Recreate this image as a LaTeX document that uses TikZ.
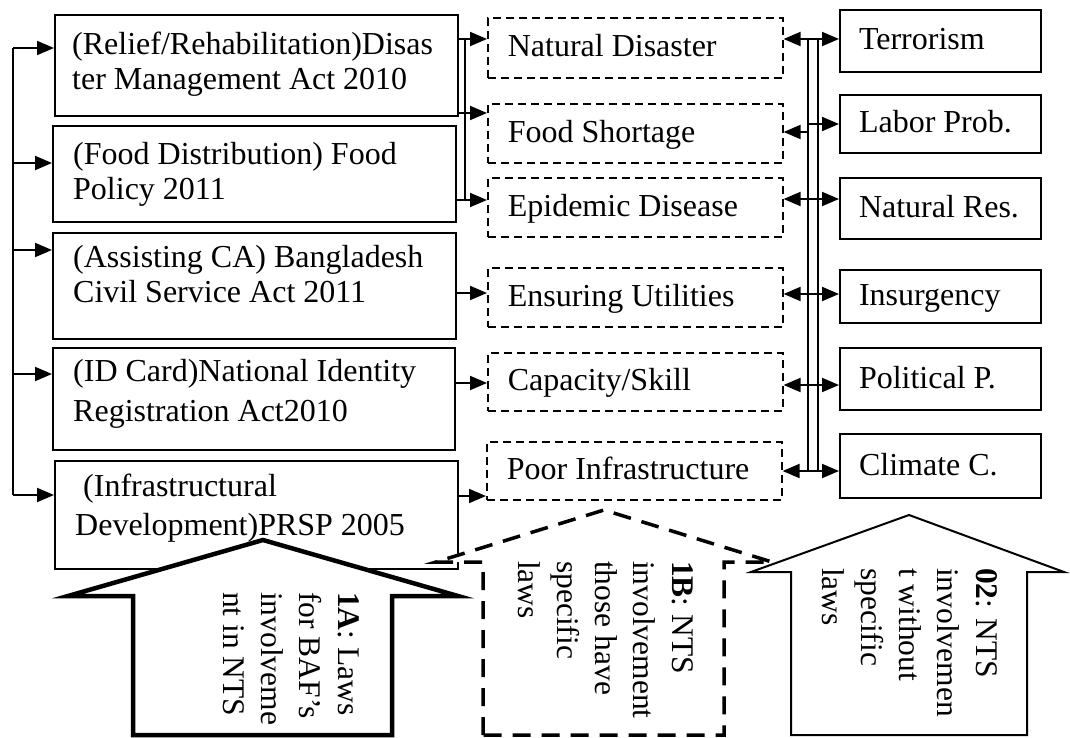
\documentclass[tikz,border=0pt]{standalone}
\usepackage{fontspec}
\setmainfont{Liberation Serif}
\usetikzlibrary{arrows.meta}
% left-aligned label of fixed width inside a box
\newcommand{\fixw}[2]{\makebox[#1][l]{#2}}
\begin{document}
\begin{tikzpicture}[x=1pt,y=-1pt,
  every node/.style={font=\fontsize{32}{35}\selectfont},
  lawbox/.style={draw, line width=2pt, anchor=north west, inner sep=0pt},
  lawtext/.style={anchor=base west, inner sep=0pt},
  threatbox/.style={draw, line width=1.6pt, dash pattern=on 8pt off 5pt,
    anchor=north west, minimum width=295pt, inner xsep=20pt,
    inner ysep=0pt, text height=23pt, text depth=5pt},
  ntsbox/.style={draw, line width=2pt, anchor=north west, minimum width=201pt,
    inner xsep=19pt, inner ysep=0pt, text height=23pt, text depth=5pt},
  link/.style={line width=2pt},
  arr/.style={line width=2pt, -{Triangle[length=17pt,width=14pt]}},
  rottext/.style={rotate=-90, anchor=base west, inner sep=0pt,
    font=\fontsize{31.5}{38.3}\selectfont},
  house/.style={fill=white, line join=miter}
]
\useasboundingbox (0,0) rectangle (1070,738);

% ---- laws (left column) ----
\node[lawbox, minimum width=403pt, minimum height=101pt] (L1) at (54,14) {};
\node[lawbox, minimum width=403pt, minimum height=96pt]  (L2) at (52,125) {};
\node[lawbox, minimum width=403pt, minimum height=106pt] (L3) at (52,232) {};
\node[lawbox, minimum width=402pt, minimum height=102pt] (L4) at (52,347) {};
\node[lawbox, minimum width=403pt, minimum height=108pt] (L5) at (54,460) {};

\node[lawtext] (L1t) at (72,55) {\begin{tabular}[t]{@{}l@{}}(Relief/Rehabilitation)Disas\\ter Management Act 2010\end{tabular}};
\node[lawtext] (L2t) at (73,165) {\begin{tabular}[t]{@{}l@{}}(Food Distribution) Food\\Policy 2011\end{tabular}};
\node[lawtext] (L3t) at (73,267) {\begin{tabular}[t]{@{}l@{}}(Assisting CA) Bangladesh\\Civil Service Act 2011\end{tabular}};
\node[lawtext, font=\fontsize{32}{40}\selectfont] (L4t) at (73,381) {\begin{tabular}[t]{@{}l@{}}(ID Card)National Identity\\Registration Act2010\end{tabular}};
\node[lawtext, font=\fontsize{32}{39}\selectfont] (L5t) at (75,496) {\begin{tabular}[t]{@{}l@{}}\ (Infrastructural\\Development)PRSP 2005\end{tabular}};

% ---- threats (middle column) ----
\node[threatbox, minimum height=60pt] (N1) at (487,17)  {\fixw{255pt}{Natural Disaster}};
\node[threatbox, minimum height=59pt] (N2) at (487,103) {\fixw{255pt}{Food Shortage}};
\node[threatbox, minimum height=59pt] (N3) at (487,177) {\fixw{255pt}{Epidemic Disease}};
\node[threatbox, minimum height=59pt] (N4) at (487,267) {\fixw{255pt}{Ensuring Utilities}};
\node[threatbox, minimum height=58pt] (N5) at (487,352) {\fixw{255pt}{Capacity/Skill}};
\node[threatbox, minimum height=58pt] (N6) at (486,441) {\fixw{255pt}{Poor Infrastructure}};

% ---- NTS issues (right column) ----
\node[ntsbox, minimum height=62pt] (R1) at (839,9)   {\fixw{163pt}{Terrorism}};
\node[ntsbox, minimum height=58pt] (R2) at (839,94)  {\fixw{163pt}{Labor Prob.}};
\node[ntsbox, minimum height=61pt] (R3) at (839,177) {\fixw{163pt}{Natural Res.}};
\node[ntsbox, minimum height=53pt] (R4) at (839,269) {\fixw{163pt}{Insurgency}};
\node[ntsbox, minimum height=62pt] (R5) at (839,347) {\fixw{163pt}{Political P.}};
\node[ntsbox, minimum height=64pt] (R6) at (839,433) {\fixw{163pt}{Climate C.}};

% ---- feed line on the far left ----
\coordinate (f1) at (13,48);
\coordinate (f2) at (13,163);
\coordinate (f3) at (13,250);
\coordinate (f4) at (13,374);
\coordinate (f5) at (13,495);
\draw[link] (f1) -- (f5);
\foreach \i in {1,...,5} {
  \draw[arr] (f\i) -- (f\i -| L\i.west);
}

% ---- laws to threats ----
\coordinate (m1) at (465,39);
\coordinate (m2) at (465,113);
\coordinate (m3) at (465,200);
\coordinate (m4) at (465,293);
\coordinate (m5) at (465,383);
\coordinate (m6) at (465,496);
\draw[link] (m1) -- (m3);
\draw[arr] (m1 -| L1.east) -- (m1 -| N1.west);
\draw[arr] (m2 -| L1.east) -- (m2 -| N2.west);
\draw[arr] (m3 -| L2.east) -- (m3 -| N3.west);
\draw[arr] (m4 -| L3.east) -- (m4 -| N4.west);
\draw[arr] (m5 -| L4.east) -- (m5 -| N5.west);
\draw[arr] (m6 -| L5.east) -- (m6 -| N6.west);

% ---- double bar linking threats and NTS issues ----
\coordinate (bt) at (808,39);
\coordinate (bb) at (808,471);
\coordinate (bt2) at (818,39);
\coordinate (bb2) at (818,471);
\draw[link] (bt) -- (bb);
\draw[link] (bt2) -- (bb2);
\coordinate (a1) at (808,39);  \coordinate (c1) at (808,39);
\coordinate (a2) at (808,132); \coordinate (c2) at (808,124);
\coordinate (a3) at (808,199); \coordinate (c3) at (808,199);
\coordinate (a4) at (808,294); \coordinate (c4) at (808,294);
\coordinate (a5) at (808,385); \coordinate (c5) at (808,385);
\coordinate (a6) at (808,471); \coordinate (c6) at (808,471);
\foreach \i in {1,...,6} {
  \draw[arr] (a\i) -- (a\i -| N\i.east);
  \draw[arr] (c\i) -- (c\i -| R\i.west);
}

% ---- block arrows at the bottom ----
% 1A: thick solid
\draw[house, line width=4.5pt]
  (133,735) -- (133,596) -- (68,596) -- (263,540) -- (458,596)
  -- (392,596) -- (392,735) -- cycle;
% 02: thin solid
\draw[house, line width=2pt]
  (791,735) -- (791,572) -- (751,572) -- (909,515) -- (1064,572)
  -- (1027,572) -- (1027,735) -- cycle;
% 1B: thick dashed
\draw[house, line width=3.5pt, dash pattern=on 18pt off 11pt]
  (483,735) -- (483,562) -- (436,562) -- (604,510) -- (772,562)
  -- (724,562) -- (724,735) -- cycle;

\node[rottext] (T1A) at (338,592) {\begin{tabular}[t]{@{}l@{}}\textbf{1A}: Laws\\for BAF’s\\involveme\\nt in NTS\end{tabular}};
\node[rottext] (T1B) at (672,561) {\begin{tabular}[t]{@{}l@{}}\textbf{1B}: NTS\\involvement\\those have\\specific\\laws\end{tabular}};
\node[rottext] (T02) at (976,568) {\begin{tabular}[t]{@{}l@{}}\textbf{02}: NTS\\involvemen\\t without\\specific\\laws\end{tabular}};
\end{tikzpicture}
\end{document}
